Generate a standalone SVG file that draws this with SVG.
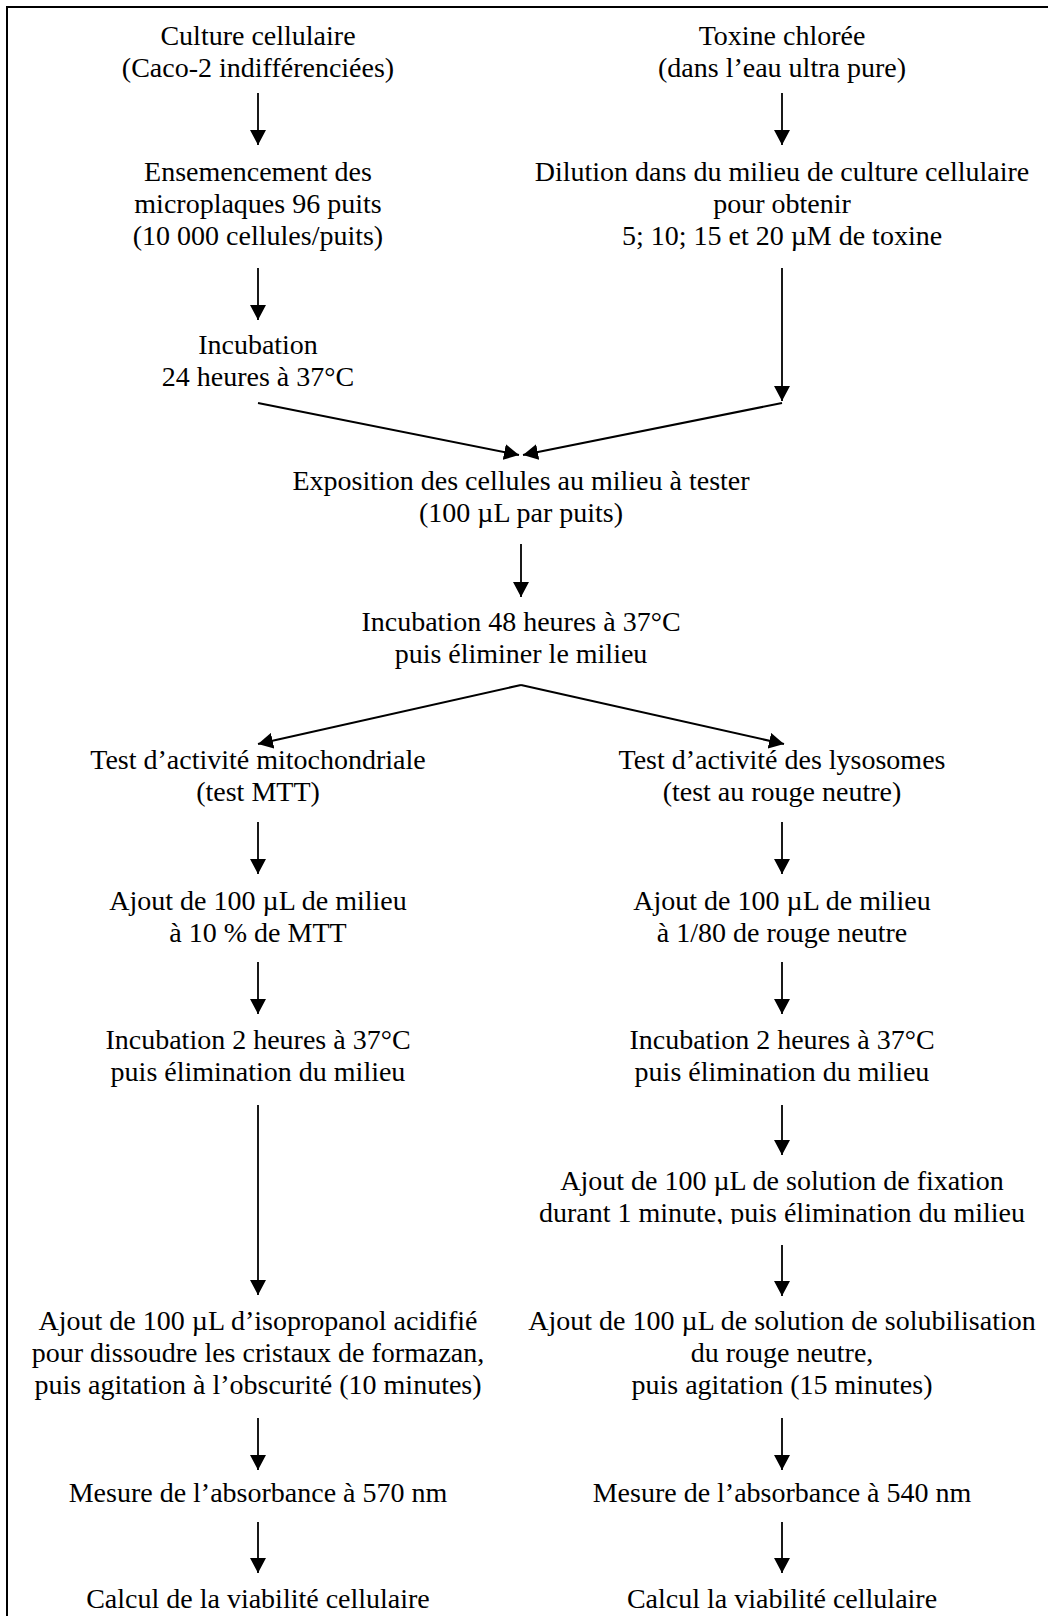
<svg xmlns="http://www.w3.org/2000/svg" width="1048" height="1616" viewBox="0 0 1048 1616">
<style>
text{font-family:"Liberation Serif","Times New Roman",serif;font-size:28px;fill:#000;text-anchor:middle}
.c line{stroke:#000;stroke-width:1.8;marker-end:url(#ah)}
.frame{stroke:#000;stroke-width:2;fill:none}
</style>
<defs>
<marker id="ah" markerUnits="userSpaceOnUse" markerWidth="16" markerHeight="16" refX="15" refY="8" orient="auto">
<path d="M0,0 L15,8 L0,16 z" fill="#000"/>
</marker>
<clipPath id="clipFix"><rect x="500" y="1150" width="548" height="74"/></clipPath>
</defs>
<rect width="1048" height="1616" fill="#fff"/>
<path class="frame" d="M7,1616 L7,7 L1048,7"/>

<g id="n1"><text x="258" y="45">Culture cellulaire</text><text x="258" y="77">(Caco-2 indifférenciées)</text></g>
<g id="n2"><text x="782" y="45">Toxine chlorée</text><text x="782" y="77">(dans l’eau ultra pure)</text></g>
<g id="n3"><text x="258" y="181">Ensemencement des</text><text x="258" y="213">microplaques 96 puits</text><text x="258" y="245">(10 000 cellules/puits)</text></g>
<g id="n4"><text x="782" y="181">Dilution dans du milieu de culture cellulaire</text><text x="782" y="213">pour obtenir</text><text x="782" y="245">5; 10; 15 et 20 µM de toxine</text></g>
<g id="n5"><text x="258" y="354">Incubation</text><text x="258" y="386">24 heures à 37°C</text></g>
<g id="n6"><text x="521" y="490">Exposition des cellules au milieu à tester</text><text x="521" y="522">(100 µL par puits)</text></g>
<g id="n7"><text x="521" y="631">Incubation 48 heures à 37°C</text><text x="521" y="663">puis éliminer le milieu</text></g>
<g id="n8"><text x="258" y="769">Test d’activité mitochondriale</text><text x="258" y="801">(test MTT)</text></g>
<g id="n9"><text x="782" y="769">Test d’activité des lysosomes</text><text x="782" y="801">(test au rouge neutre)</text></g>
<g id="n10"><text x="258" y="910">Ajout de 100 µL de milieu</text><text x="258" y="942">à 10 % de MTT</text></g>
<g id="n11"><text x="782" y="910">Ajout de 100 µL de milieu</text><text x="782" y="942">à 1/80 de rouge neutre</text></g>
<g id="n12"><text x="258" y="1049">Incubation 2 heures à 37°C</text><text x="258" y="1081">puis élimination du milieu</text></g>
<g id="n13"><text x="782" y="1049">Incubation 2 heures à 37°C</text><text x="782" y="1081">puis élimination du milieu</text></g>
<g id="n14" clip-path="url(#clipFix)"><text x="782" y="1190">Ajout de 100 µL de solution de fixation</text><text x="782" y="1222">durant 1 minute, puis élimination du milieu</text></g>
<g id="n15"><text x="258" y="1330">Ajout de 100 µL d’isopropanol acidifié</text><text x="258" y="1362">pour dissoudre les cristaux de formazan,</text><text x="258" y="1394">puis agitation à l’obscurité (10 minutes)</text></g>
<g id="n16"><text x="782" y="1330">Ajout de 100 µL de solution de solubilisation</text><text x="782" y="1362">du rouge neutre,</text><text x="782" y="1394">puis agitation (15 minutes)</text></g>
<g id="n17"><text x="258" y="1502">Mesure de l’absorbance à 570 nm</text></g>
<g id="n18"><text x="782" y="1502">Mesure de l’absorbance à 540 nm</text></g>
<g id="n19"><text x="258" y="1608">Calcul de la viabilité cellulaire</text></g>
<g id="n20"><text x="782" y="1608">Calcul la viabilité cellulaire</text></g>

<g id="connectors" class="c">
<line x1="258" y1="93" x2="258" y2="145"/>
<line x1="782" y1="93" x2="782" y2="145"/>
<line x1="258" y1="268" x2="258" y2="320"/>
<line x1="782" y1="268" x2="782" y2="401"/>
<line x1="258" y1="403" x2="519" y2="455" style="stroke-width:2.1"/>
<line x1="782" y1="403" x2="523" y2="455" style="stroke-width:2.1"/>
<line x1="521" y1="544" x2="521" y2="597"/>
<line x1="521" y1="685" x2="258" y2="744" style="stroke-width:2.1"/>
<line x1="521" y1="685" x2="784" y2="744" style="stroke-width:2.1"/>
<line x1="258" y1="822" x2="258" y2="874"/>
<line x1="782" y1="822" x2="782" y2="874"/>
<line x1="258" y1="962" x2="258" y2="1014"/>
<line x1="782" y1="962" x2="782" y2="1014"/>
<line x1="258" y1="1105" x2="258" y2="1295"/>
<line x1="782" y1="1105" x2="782" y2="1155"/>
<line x1="782" y1="1245" x2="782" y2="1296"/>
<line x1="258" y1="1418" x2="258" y2="1470"/>
<line x1="782" y1="1418" x2="782" y2="1470"/>
<line x1="258" y1="1522" x2="258" y2="1573"/>
<line x1="782" y1="1522" x2="782" y2="1573"/>
</g>
</svg>
